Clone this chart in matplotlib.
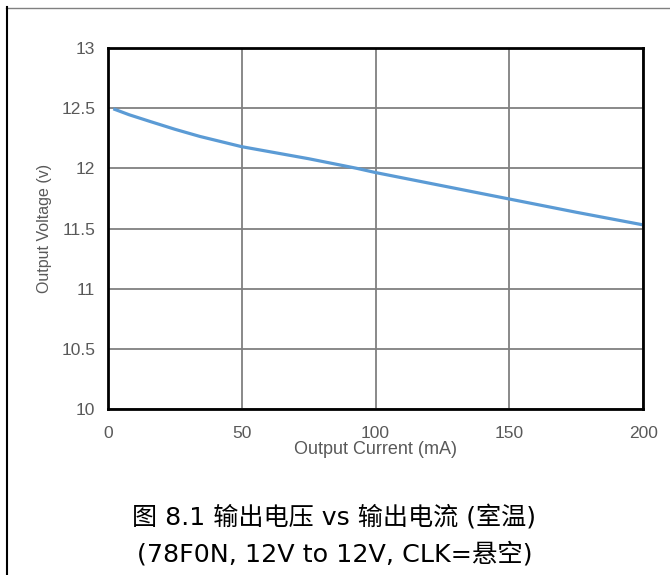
import matplotlib
matplotlib.use("Agg")
import matplotlib.pyplot as plt
from matplotlib.lines import Line2D

# output current (mA) vs output voltage (V)
current = [2.6, 8, 15.7, 25, 34.4, 50, 75, 93, 100, 125, 150, 175, 200]
voltage = [12.49, 12.445, 12.39, 12.325, 12.265, 12.18, 12.08, 12.0, 11.965, 11.855, 11.745, 11.635, 11.53]

x_ticks = [0, 50, 100, 150, 200]
y_ticks = [10, 10.5, 11, 11.5, 12, 12.5, 13]
y_tick_labels = ["10", "10.5", "11", "11.5", "12", "12.5", "13"]

caption_1 = "图 8.1 输出电压 vs 输出电流 (室温)"
caption_2 = "(78F0N, 12V to 12V, CLK=悬空)"

fig = plt.figure(figsize=(6.7, 5.75), dpi=100)
ax = fig.add_axes([0.161, 0.2887, 0.799, 0.6278])

ax.plot(current, voltage, color="#5B9BD5", linewidth=2.3)

ax.set_xlim(0, 200)
ax.set_ylim(10, 13)
ax.set_xticks(x_ticks)
ax.set_yticks(y_ticks)
ax.set_yticklabels(y_tick_labels)
ax.grid(True, color="#808080", linewidth=1.3)
ax.set_axisbelow(True)
for s in ax.spines.values():
    s.set_linewidth(2)
    s.set_color("black")
ax.tick_params(length=0, labelsize=12.5, labelcolor="#595959")
ax.tick_params(axis="x", pad=12)
ax.tick_params(axis="y", pad=9)
for lab in ax.get_xticklabels() + ax.get_yticklabels():
    lab.set_family("Liberation Sans")

ax.set_xlabel("Output Current (mA)", family="Liberation Sans", fontsize=13,
              color="#595959", labelpad=0)
ax.set_ylabel("Output Voltage (v)", family="Liberation Sans", fontsize=11.5,
              color="#595959", labelpad=7)

#caption under the chart
cap_font = ["DejaVu Sans", "Noto Sans CJK SC"]
fig.text(0.499, 0.101, caption_1, ha="center", va="center", fontsize=18.1,
         family=cap_font, color="black")
fig.text(0.499, 0.036, caption_2, ha="center", va="center", fontsize=18.3,
         family=cap_font, color="black")

# outer frame (top and left edges only)
fig.add_artist(Line2D([6 / 670, 1], [1 - 7.5 / 575, 1 - 7.5 / 575],
                      transform=fig.transFigure, color="#808080", linewidth=1))
fig.add_artist(Line2D([6.5 / 670, 6.5 / 670], [0, 1 - 7 / 575],
                      transform=fig.transFigure, color="black", linewidth=1.5))

plt.savefig("out.png", dpi=100)
